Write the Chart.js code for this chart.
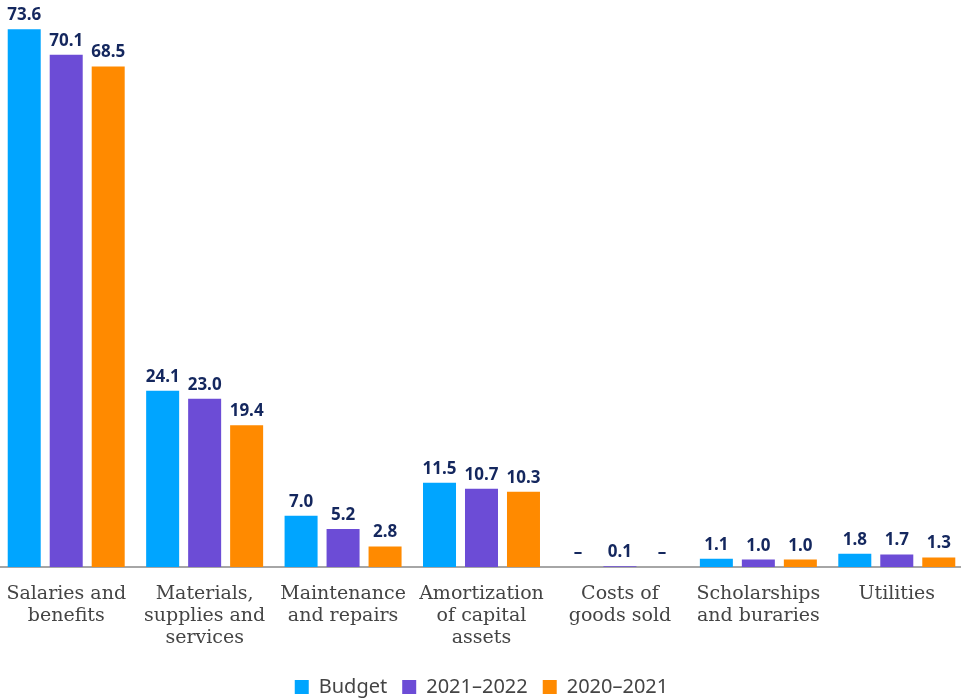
<!DOCTYPE html>
<html>
<head>
<meta charset="utf-8">
<script src="https://cdn.jsdelivr.net/npm/chart.js@4/dist/chart.umd.min.js"></script>
<style>
  html, body { margin: 0; padding: 0; background: #fff; overflow: hidden; }
  #wrap { position: absolute; left: -3px; top: 0; width: 969px; height: 700px; }
</style>
</head>
<body>
<div id="wrap"><canvas id="expenseChart"></canvas></div>
<script>
const categories = [
    ['Salaries and', 'benefits'],
    ['Materials,', 'supplies and', 'services'],
    ['Maintenance', 'and repairs'],
    ['Amortization', 'of capital', 'assets'],
    ['Costs of', 'goods sold'],
    ['Scholarships', 'and buraries'],
    ['Utilities']
];
const budget = [73.6, 24.1, 7.0, 11.5, 0, 1.1, 1.8];
const year2122 = [70.1, 23.0, 5.2, 10.7, 0.1, 1.0, 1.7];
const year2021 = [68.5, 19.4, 2.8, 10.3, 0, 1.0, 1.3];

// values on top of each bar, a dash where there is nothing
const valueLabels = {
    id: 'valueLabels',
    afterDatasetsDraw(chart) {
        const ctx = chart.ctx;
        ctx.save();
        ctx.font = 'bold 17px "Noto Sans", sans-serif';
        ctx.fillStyle = '#14275e';
        ctx.textAlign = 'center';
        ctx.textBaseline = 'alphabetic';
        chart.data.datasets.forEach((ds, i) => {
            const meta = chart.getDatasetMeta(i);
            meta.data.forEach((bar, j) => {
                const v = ds.data[j];
                const text = v > 0 ? v.toFixed(1) : '–';
                ctx.fillText(text, bar.x, bar.y - 9);
            });
        });
        ctx.restore();
    }
};

const ctx = document.getElementById('expenseChart').getContext('2d');
new Chart(ctx, {
    type: 'bar',
    data: {
        labels: categories,
        datasets: [
            { label: 'Budget', data: budget, backgroundColor: '#00a5ff' },
            { label: '2021–2022', data: year2122, backgroundColor: '#6c4cd6' },
            { label: '2020–2021', data: year2021, backgroundColor: '#ff8a00' }
        ]
    },
    options: {
        responsive: true,
        maintainAspectRatio: false,
        animation: false,
        categoryPercentage: 0.91,
        barPercentage: 0.786,
        layout: { padding: { top: 0, bottom: -7 } },
        plugins: {
            tooltip: { enabled: false },
            legend: {
                position: 'bottom',
                labels: {
                    boxWidth: 14,
                    boxHeight: 14,
                    padding: 15,
                    color: '#444',
                    font: { family: '"Noto Sans", sans-serif', size: 20 }
                }
            }
        },
        scales: {
            x: {
                grid: { display: false },
                border: { display: true, color: '#a6a6a6', width: 2 },
                afterFit(scale) {
                    scale.height += 5; // extra room between labels and legend
                },
                ticks: {
                    color: '#444',
                    padding: 8,
                    autoSkip: false,
                    maxRotation: 0,
                    font: { family: '"DejaVu Serif", serif', size: 19, lineHeight: 1.16 }
                }
            },
            y: {
                display: false,
                min: 0,
                max: 77.6
            }
        }
    },
    plugins: [valueLabels]
});
</script>
</body>
</html>
